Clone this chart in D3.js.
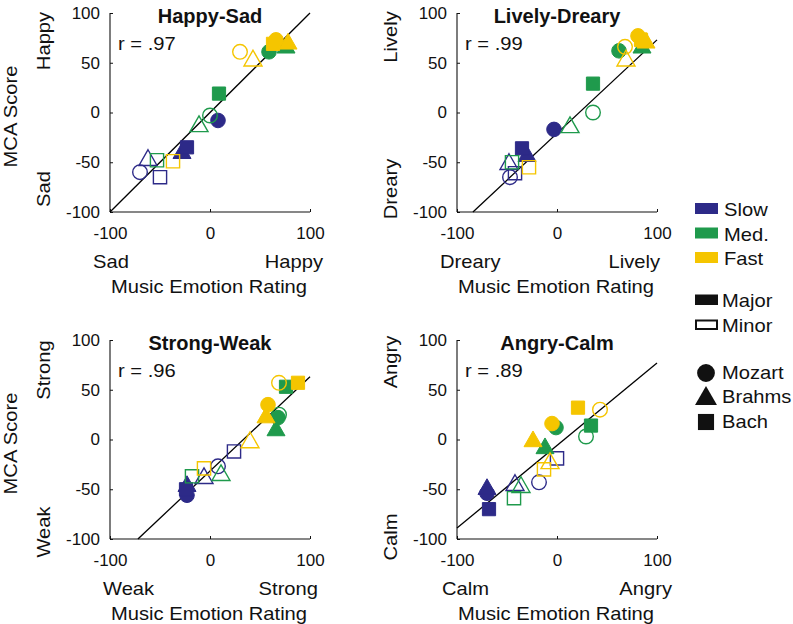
<!DOCTYPE html>
<html><head><meta charset="utf-8">
<script src="https://cdn.jsdelivr.net/npm/d3@7"></script>
<style>body{margin:0;background:#fff}svg{display:block}text{font-family:"Liberation Sans",Arial,Helvetica,sans-serif;fill:#111}</style>
</head><body><svg id="c" width="793" height="624"></svg>
<script>
// ---------- data ----------
const panelTitles = ["Happy-Sad", "Lively-Dreary", "Strong-Weak", "Angry-Calm"];
const rLabels = ["r = .97", "r = .99", "r = .96", "r = .89"];
const highLabels = ["Happy", "Lively", "Strong", "Angry"];
const lowLabels = ["Sad", "Dreary", "Weak", "Calm"];
const yTicks = [-100, -50, 0, 50, 100];
const xTicks = [-100, 0, 100];
const tempoNames = ["Slow", "Med.", "Fast"];
const modeNames = ["Major", "Minor"];
const composerNames = ["Mozart", "Brahms", "Bach"];
const fitSlope = [1.0, 0.94, 0.948, 0.83];
const fitIntercept = [0, -21, -31.7, -6];

// point order: tempo (Slow,Med,Fast) x mode (Major,Minor) x composer (Mozart,Brahms,Bach)
const pointTempo    = [0,0,0,0,0,0, 1,1,1,1,1,1, 2,2,2,2,2,2];
const pointMode     = [0,0,0,1,1,1, 0,0,0,1,1,1, 0,0,0,1,1,1];
const pointComposer = [0,1,2,0,1,2, 0,1,2,0,1,2, 0,1,2,0,1,2];

const happySadX = [8,-28,-23, -70,-62,-50,  59,76,9,   0,-11,-53,  66,78,63,  30,43,-37];
const happySadY = [-8,-40,-35, -60,-47,-65, 61,66,19,  -3,-13,-48, 73,70,69,  61,53,-49];
const livelyDrearyX = [-3,-30,-35, -47,-48,-42, 62,85,36, 36,13,-45, 81,89,84, 68,69,-28];
const livelyDrearyY = [-17,-43,-36, -65,-51,-61, 62,66,29, 0,-14,-50, 77,71,73, 66,53,-55];
const strongWeakX = [-23,-23,-24, 8,-6,24,  68,66,76, 69,11,-18, 58,56,88, 69,40,-6];
const strongWeakY = [-56,-46,-50, -27,-38,-12, 22,10,53, 25,-35,-37, 35,23,57, 57,-2,-29];
const angryCalmX = [-70,-70,-68, -18,-42,0, -1,-12,34, 29,-36,-43, -5,-24,21, 43,-7,-13];
const angryCalmY = [-54,-49,-70, -43,-45,-19, 12,-8,14, 3,-47,-59, 16,-1,32, 30,-23,-30];

const panelX = [happySadX, livelyDrearyX, strongWeakX, angryCalmX];
const panelY = [happySadY, livelyDrearyY, strongWeakY, angryCalmY];

// ---------- styles / layout ----------
const tempoColors = ["#2d2a88", "#1f9a4c", "#f5c500"];
const panels = [
  {left:110, top:13,  lowStart:93,  highEnd:323, highC:41,  lowC:189, score:true},
  {left:457, top:13,  lowStart:440, highEnd:660, highC:37,  lowC:189, score:false},
  {left:110, top:340, lowStart:103, highEnd:318, highC:370, lowC:532, score:true},
  {left:457, top:340, lowStart:442, highEnd:672, highC:362, lowC:537, score:false}
];
const W = 200, H = 199;
const FS = 18, SX = 1.12;

const svg = d3.select("#c");

function label(g, x, y, txt, anchor, rot) {
  return g.append("text")
    .attr("transform", `translate(${x},${y}) rotate(${rot || 0}) scale(${SX},1)`)
    .attr("text-anchor", anchor || "start").attr("font-size", FS).text(txt);
}

function shapePath(comp, s) {
  if (comp === 0) { const r = 7.3*s; return `M${-r},0a${r},${r} 0 1,0 ${2*r},0a${r},${r} 0 1,0 ${-2*r},0Z`; }
  if (comp === 1) { const w = 9*s, h1 = 9.5*s, h2 = 6.2*s; return `M0,${-h1}L${w},${h2}L${-w},${h2}Z`; }
  const a = 6.6*s; return `M${-a},${-a}H${a}V${a}H${-a}Z`;
}

const tickFmt = d => String(d);

panels.forEach((p, i) => {
  const x = d3.scaleLinear().domain([-100, 100]).range([p.left, p.left + W]);
  const y = d3.scaleLinear().domain([-100, 100]).range([p.top + H, p.top]);
  const g = svg.append("g");

  // axes
  const ya = g.append("g").attr("transform", `translate(${p.left},0)`)
    .call(d3.axisLeft(y).tickValues(yTicks).tickSize(-3).tickPadding(10).tickFormat(tickFmt));
  const xa = g.append("g").attr("transform", `translate(0,${p.top + H})`)
    .call(d3.axisBottom(x).tickValues(xTicks).tickSize(-3).tickPadding(15).tickFormat(tickFmt));
  [ya, xa].forEach(a => {
    a.select(".domain").attr("stroke", "#111").attr("stroke-width", 1.1);
    a.selectAll(".tick line").attr("stroke", "#111");
    a.selectAll(".tick text").attr("font-size", 17).attr("fill", "#111")
      .attr("font-family", '"Liberation Sans",Arial,sans-serif');
  });
  xa.select(".domain").attr("d", `M${p.left},0H${p.left + W}`);
  ya.select(".domain").attr("d", `M0,${p.top}V${p.top + H}`);

  // fit line, clipped to the box
  let x0 = -100, x1 = 100;
  const yAt = v => fitSlope[i] * v + fitIntercept[i];
  if (yAt(x0) < -100) x0 = (-100 - fitIntercept[i]) / fitSlope[i];
  if (yAt(x1) > 100) x1 = (100 - fitIntercept[i]) / fitSlope[i];
  g.append("line").attr("x1", x(x0)).attr("y1", y(yAt(x0))).attr("x2", x(x1)).attr("y2", y(yAt(x1)))
    .attr("stroke", "#000").attr("stroke-width", 1.3);

  // points
  const xv = panelX[i], yv = panelY[i];
  xv.forEach((vx, k) => {
    const col = tempoColors[pointTempo[k]];
    const major = pointMode[k] === 0;
    g.append("path").attr("d", shapePath(pointComposer[k], 1))
      .attr("transform", `translate(${x(vx)},${y(yv[k])})`)
      .attr("fill", major ? col : "none")
      .attr("stroke", col).attr("stroke-width", major ? 1 : 1.4);
  });

  // texts
  g.append("text").attr("x", p.left + W / 2).attr("y", p.top + 10).attr("text-anchor", "middle")
    .attr("font-size", 20).attr("font-weight", "bold").text(panelTitles[i]);
  label(g, p.left + 8, p.top + 37, rLabels[i]);
  label(g, p.lowStart, p.top + H + 56, lowLabels[i]);
  label(g, p.highEnd, p.top + H + 56, highLabels[i], "end");
  label(g, p.left + W / 2 - 1, p.top + H + 81, "Music Emotion Rating", "middle");
  label(g, p.left - 60, p.highC, highLabels[i], "middle", -90);
  label(g, p.left - 60, p.lowC, lowLabels[i], "middle", -90);
  if (p.score) label(g, 17, p.top + H / 2 + 4, "MCA Score", "middle", -90);
});

// ---------- legend ----------
const lg = svg.append("g");
tempoNames.forEach((t, k) => {
  const yy = 203 + k * 24.5;
  lg.append("rect").attr("x", 695).attr("y", yy).attr("width", 23).attr("height", 11).attr("fill", tempoColors[k]);
  label(lg, 724, yy + 13, t);
});
modeNames.forEach((m, k) => {
  const yy = 295.5 + k * 25;
  lg.append("rect").attr("x", 696).attr("y", yy).attr("width", 21).attr("height", 8.5)
    .attr("fill", k === 0 ? "#111" : "#fff").attr("stroke", "#111").attr("stroke-width", 2);
  label(lg, 722, yy + 11.5, m);
});
composerNames.forEach((c, k) => {
  const yy = 372 + k * 24.5;
  lg.append("path").attr("d", shapePath(k, 1.22)).attr("transform", `translate(706,${yy + 1})`)
    .attr("fill", "#111");
  label(lg, 722, yy + 6.5, c);
});
</script></body></html>
